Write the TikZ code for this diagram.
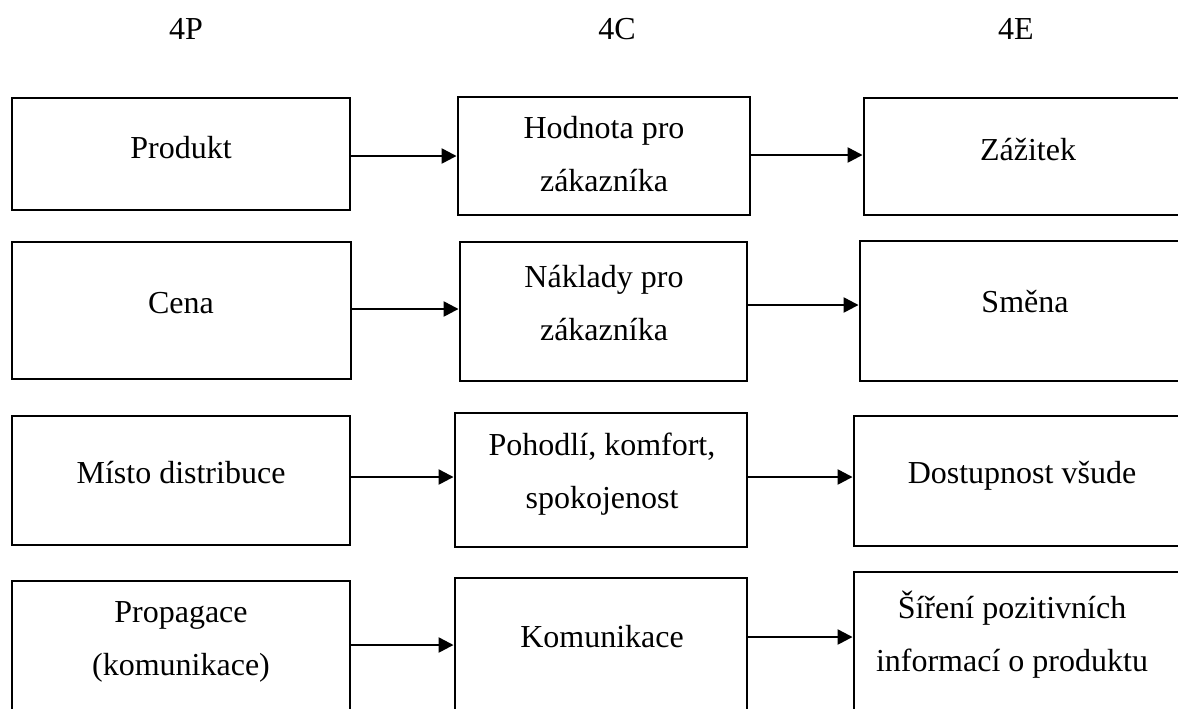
\documentclass[tikz,border=0pt]{standalone}
\usepackage{fontspec}
\setmainfont{Liberation Serif}
\usetikzlibrary{fit,arrows.meta}
\newcommand{\twolines}[2]{\begin{tabular}[t]{@{}c@{}}#1\\#2\end{tabular}}
\begin{document}
\begin{tikzpicture}[x=0.5pt,y=-0.5pt,
  box/.style={draw=black,line width=1.45pt,inner sep=0pt,fill=none},
  lbl/.style={anchor=base,inner sep=0pt,font=\fontsize{16}{26.5}\selectfont},
  arr/.style={line width=1.2pt,-{Triangle[length=7.5pt,width=7.5pt]}}]
\useasboundingbox (0,0) rectangle (1178,708);
\clip (0,0) rectangle (1178,708);
% headers
\node[lbl] (h1) at (186,39) {4P};
\node[lbl] (h2) at (617,39) {4C};
\node[lbl] (h3) at (1016,39) {4E};
% boxes
\node[box,fit={(12,98) (350,210)}] (L1) {};
\node[box,fit={(458,97) (750,215)}] (M1) {};
\node[box,fit={(864,98) (1200,215)}] (R1) {};
\node[box,fit={(12,242) (351,379)}] (L2) {};
\node[box,fit={(460,242) (747,381)}] (M2) {};
\node[box,fit={(860,241) (1200,381)}] (R2) {};
\node[box,fit={(12,416) (350,545)}] (L3) {};
\node[box,fit={(455,413) (747,547)}] (M3) {};
\node[box,fit={(854,416) (1200,546)}] (R3) {};
\node[box,fit={(12,581) (350,730)}] (L4) {};
\node[box,fit={(455,578) (747,730)}] (M4) {};
\node[box,fit={(854,572) (1200,730)}] (R4) {};
% texts
\node[lbl] (tL1) at (181,158) {Produkt};
\node[lbl] (tM1) at (604,138) {\twolines{Hodnota pro}{zákazníka}};
\node[lbl] (tR1) at (1028,160) {Zážitek};
\node[lbl] (tL2) at (181,313) {Cena};
\node[lbl] (tM2) at (604,287) {\twolines{Náklady pro}{zákazníka}};
\node[lbl] (tR2) at (1025,312) {Směna};
\node[lbl] (tL3) at (181,483) {Místo distribuce};
\node[lbl] (tM3) at (602,455) {\twolines{Pohodlí, komfort,}{spokojenost}};
\node[lbl] (tR3) at (1022,483) {Dostupnost všude};
\node[lbl] (tL4) at (181,622) {\twolines{Propagace}{(komunikace)}};
\node[lbl] (tM4) at (602,647) {Komunikace};
\node[lbl] (tR4) at (1012,618) {\twolines{Šíření pozitivních}{informací o produktu}};
% arrows
\draw[arr] (L1.east |- 0,156) -- (M1.west |- 0,156);
\draw[arr] (M1.east |- 0,155) -- (R1.west |- 0,155);
\draw[arr] (L2.east |- 0,309) -- (M2.west |- 0,309);
\draw[arr] (M2.east |- 0,305) -- (R2.west |- 0,305);
\draw[arr] (L3.east |- 0,477) -- (M3.west |- 0,477);
\draw[arr] (M3.east |- 0,477) -- (R3.west |- 0,477);
\draw[arr] (L4.east |- 0,645) -- (M4.west |- 0,645);
\draw[arr] (M4.east |- 0,637) -- (R4.west |- 0,637);
\end{tikzpicture}
\end{document}
